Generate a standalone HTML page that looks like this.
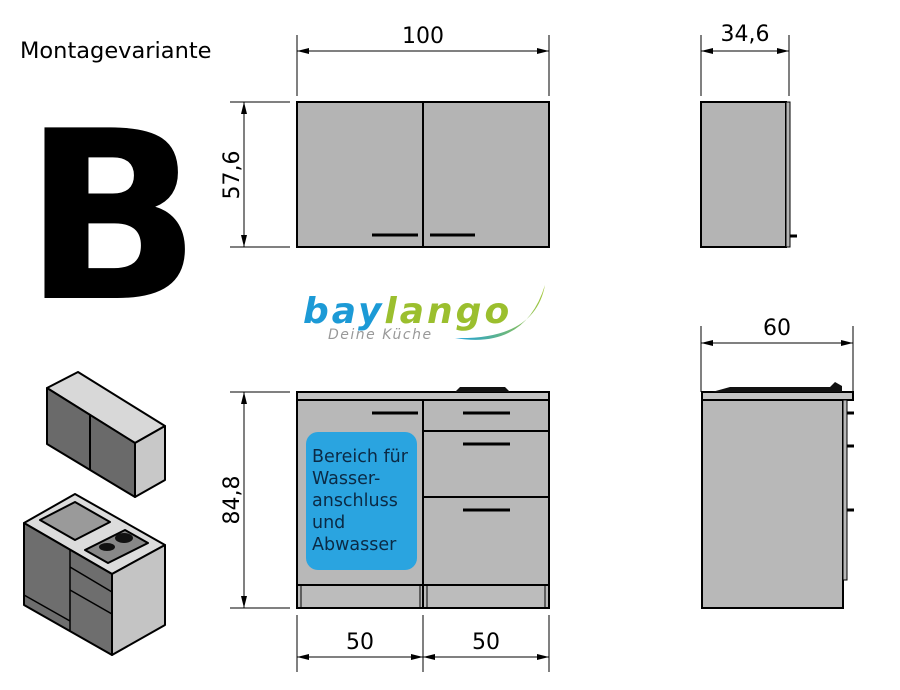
<!DOCTYPE html>
<html><head><meta charset="utf-8"><style>
html,body{margin:0;padding:0;background:#fff;}
svg{display:block;}
text{font-family:"DejaVu Sans","Liberation Sans",sans-serif;}
</style></head><body>
<svg width="900" height="690" viewBox="0 0 900 690" xmlns="http://www.w3.org/2000/svg">
<defs>
<marker id="a" markerWidth="12" markerHeight="8" refX="12" refY="4" orient="auto-start-reverse" markerUnits="userSpaceOnUse"><path d="M0,1 L12,4 L0,7 Z" fill="#000"/></marker>
<linearGradient id="sw" x1="0" y1="0" x2="1" y2="0"><stop offset="0" stop-color="#1aa0dc"/><stop offset="1" stop-color="#a6c83a"/></linearGradient>
</defs>
<text x="20" y="58" font-size="22.5" fill="#000">Montagevariante</text>
<text x="23" y="298" font-size="234" font-weight="bold" font-family="Liberation Sans" fill="#000">B</text>

<g stroke="#000" stroke-width="1" fill="none">
<line x1="297" y1="35" x2="297" y2="96"/><line x1="549" y1="35" x2="549" y2="96"/>
<line x1="297" y1="51" x2="549" y2="51" marker-start="url(#a)" marker-end="url(#a)"/>
<line x1="230" y1="102" x2="290" y2="102"/><line x1="230" y1="247" x2="290" y2="247"/>
<line x1="244" y1="102" x2="244" y2="247" marker-start="url(#a)" marker-end="url(#a)"/>
<line x1="701" y1="35" x2="701" y2="96"/><line x1="789" y1="35" x2="789" y2="96"/>
<line x1="701" y1="51" x2="789" y2="51" marker-start="url(#a)" marker-end="url(#a)"/>
<line x1="230" y1="392" x2="290" y2="392"/><line x1="230" y1="608" x2="290" y2="608"/>
<line x1="244" y1="392" x2="244" y2="608" marker-start="url(#a)" marker-end="url(#a)"/>
<line x1="297" y1="615" x2="297" y2="672"/><line x1="423" y1="615" x2="423" y2="672"/><line x1="549" y1="615" x2="549" y2="672"/>
<line x1="297" y1="657" x2="423" y2="657" marker-start="url(#a)" marker-end="url(#a)"/>
<line x1="423" y1="657" x2="549" y2="657" marker-start="url(#a)" marker-end="url(#a)"/>
<line x1="701" y1="326" x2="701" y2="392"/><line x1="853" y1="326" x2="853" y2="392"/>
<line x1="701" y1="343" x2="853" y2="343" marker-start="url(#a)" marker-end="url(#a)"/>
</g>
<g font-size="22" fill="#000" text-anchor="middle">
<text x="423" y="43">100</text>
<text x="745" y="41">34,6</text>
<text x="777" y="335">60</text>
<text x="360" y="649">50</text>
<text x="486" y="649">50</text>
<text transform="translate(239,175) rotate(-90)">57,6</text>
<text transform="translate(239,500) rotate(-90)">84,8</text>
</g>

<g stroke="#000" stroke-width="2" fill="#b4b4b4">
<rect x="297" y="102" width="126" height="145"/>
<rect x="423" y="102" width="126" height="145"/>
<rect x="701" y="102" width="85" height="145"/>
<rect x="786" y="102" width="4" height="145" stroke-width="1"/>
</g>
<g stroke="#000" stroke-width="3">
<line x1="372" y1="235" x2="418" y2="235"/><line x1="430" y1="235" x2="475" y2="235"/>
<line x1="790" y1="236" x2="797" y2="236"/>
</g>

<text x="303" y="323" font-size="36" font-style="italic" font-weight="bold" font-family="Liberation Sans" fill="#1c9ad6" letter-spacing="3">bay<tspan fill="#9bbf2e">lango</tspan></text>
<text x="328" y="339" font-size="14" font-style="italic" font-family="Liberation Sans" fill="#999" letter-spacing="1.5">Deine Küche</text>
<path d="M455,338 Q525,350 545,285 Q535,340 455,338 Z" fill="url(#sw)"/>

<g stroke="#000" stroke-width="2" fill="#b8b8b8">
<rect x="297" y="392" width="252" height="8" fill="#c4c4c4"/>
<rect x="297" y="400" width="126" height="185"/>
<rect x="423" y="400" width="126" height="31"/>
<rect x="423" y="431" width="126" height="66"/>
<rect x="423" y="497" width="126" height="88"/>
<rect x="297" y="585" width="252" height="23" fill="#bcbcbc"/>
<line x1="423" y1="585" x2="423" y2="608"/>
</g>
<g stroke="#000" stroke-width="1"><line x1="301" y1="585" x2="301" y2="608"/><line x1="420" y1="585" x2="420" y2="608"/><line x1="427" y1="585" x2="427" y2="608"/><line x1="545" y1="585" x2="545" y2="608"/></g>
<path d="M455,392 L460,387 L505,387 L510,392 Z" fill="#111"/>
<g stroke="#000" stroke-width="3">
<line x1="372" y1="413" x2="418" y2="413"/>
<line x1="463" y1="413" x2="510" y2="413"/>
<line x1="463" y1="444" x2="510" y2="444"/>
<line x1="463" y1="510" x2="510" y2="510"/>
</g>
<rect x="306" y="432" width="111" height="138" rx="12" fill="#2aa4e0"/>
<g font-size="17.5" fill="#0b2a45">
<text x="312" y="462">Bereich für</text>
<text x="312" y="484">Wasser-</text>
<text x="312" y="506">anschluss</text>
<text x="312" y="528">und</text>
<text x="312" y="550">Abwasser</text>
</g>

<g stroke="#000" stroke-width="2" fill="#b8b8b8">
<rect x="702" y="392" width="151" height="8" fill="#c4c4c4"/>
<rect x="702" y="400" width="141" height="208"/>
<rect x="843" y="400" width="4" height="180" stroke-width="1"/>
</g>
<path d="M712,392 L730,387 L830,387 L835,382 L842,386 L842,392 Z" fill="#111"/>
<g stroke="#000" stroke-width="3"><line x1="847" y1="413" x2="854" y2="413"/><line x1="847" y1="446" x2="854" y2="446"/><line x1="847" y1="510" x2="854" y2="510"/></g>

<g stroke="#000" stroke-width="2" stroke-linejoin="round">
<path d="M47,388 L78,372 L165,426 L135,443 Z" fill="#d8d8d8"/>
<path d="M47,388 L135,443 L135,497 L47,444 Z" fill="#6a6a6a"/>
<path d="M135,443 L165,426 L165,480 L135,497 Z" fill="#c8c8c8"/>
<line x1="90" y1="415" x2="90" y2="470"/>
<path d="M24,523 L75,494 L165,545 L112,574 Z" fill="#dcdcdc"/>
<path d="M24,523 L112,574 L112,655 L24,605 Z" fill="#6e6e6e"/>
<path d="M112,574 L165,545 L165,625 L112,655 Z" fill="#c4c4c4"/>
<path d="M40,520 L75,502 L110,522 L75,540 Z" fill="#9a9a9a"/>
<path d="M85,550 L125,530 L148,543 L108,563 Z" fill="#888"/>
</g>
<g stroke="#000" stroke-width="1.5" fill="none">
<line x1="70" y1="549" x2="70" y2="631"/>
<line x1="70" y1="567" x2="112" y2="592"/>
<line x1="70" y1="590" x2="112" y2="614"/>
<line x1="24" y1="595" x2="70" y2="621"/>
</g>
<ellipse cx="124" cy="538" rx="9" ry="5" fill="#111"/><ellipse cx="107" cy="547" rx="8" ry="4" fill="#111"/>
</svg>
</body></html>
